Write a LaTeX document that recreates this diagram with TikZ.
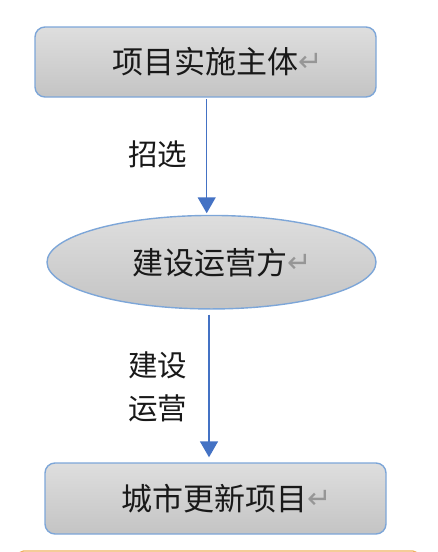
\documentclass[tikz,border=0pt]{standalone}
\usepackage{fontspec}
\newfontfamily\cjk{Noto Sans CJK SC}
\newfontfamily\dejavu{DejaVu Sans}
\usetikzlibrary{arrows.meta,shapes.geometric}
\definecolor{boxborder}{RGB}{125,166,216}
\definecolor{arrowblue}{RGB}{68,114,196}
\definecolor{fillTop}{RGB}{222,222,222}
\definecolor{fillBot}{RGB}{196,196,196}
\definecolor{orangeline}{RGB}{240,176,96}
\definecolor{retgray}{RGB}{150,150,150}
\newcommand{\retmark}{\raisebox{2pt}{\dejavu\fontsize{29}{29}\selectfont\color{retgray}↵}}
\tikzset{
  flowbox/.style={draw=boxborder, line width=1.4pt, top color=fillTop, bottom color=fillBot,
    rounded corners=10pt, inner sep=0pt, font=\cjk\fontsize{31}{31}\selectfont, text=black!90},
  flowell/.style={ellipse, draw=boxborder, line width=1.4pt, top color=fillTop, bottom color=fillBot,
    inner sep=0pt, font=\cjk\fontsize{31}{31}\selectfont, text=black!90},
  flowarr/.style={draw=arrowblue, line width=1.5pt, -{Triangle[width=18pt,length=16pt]}},
  lbl/.style={font=\cjk\fontsize{29.5}{43}\selectfont, text=black!90, align=center, inner sep=0pt}
}
\begin{document}
\begin{tikzpicture}[x=1pt,y=-1pt]
\useasboundingbox (0,0) rectangle (437,552);
\node[flowbox, minimum width=341pt, minimum height=70pt] (top) at (205.5,62) {\hspace*{24pt}项目实施主体\retmark};
\node[flowell, minimum width=329pt, minimum height=93.5pt] (mid) at (211.5,262.2) {\hspace*{22pt}建设运营方\retmark};
\node[flowbox, minimum width=341pt, minimum height=71pt] (bot) at (215.5,498.5) {\hspace*{22pt}城市更新项目\retmark};
\draw[flowarr, shorten >=1.5pt] ([xshift=1.2pt,yshift=-1.5pt]top.south) -- ([xshift=1.2pt]top.south |- mid.north);
\draw[flowarr, shorten >=5pt] ([xshift=-2.5pt,yshift=-5pt]mid.south) -- ([xshift=-2.5pt]mid.south |- bot.north);
\node[lbl] (l1) at (157.5,154.5) {招选};
\node[lbl] (l2) at (157.5,387) {建设\\运营};
\coordinate (oL) at (18.5,558);
\coordinate (oR) at (418,558);
\draw[orangeline, line width=1.3pt, rounded corners=5pt] (oL) |- (210,551) -| (oR);
\end{tikzpicture}
\end{document}
